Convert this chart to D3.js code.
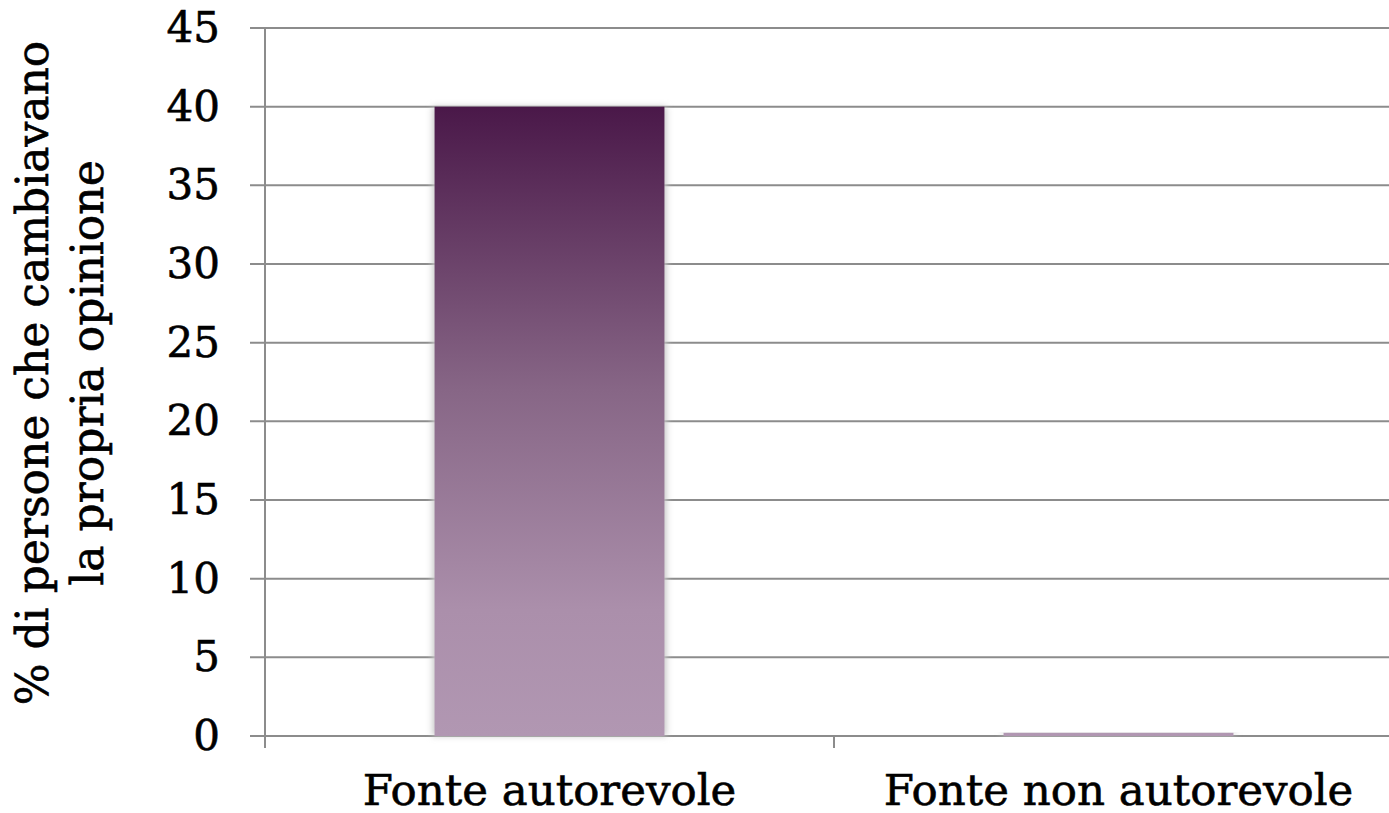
<!DOCTYPE html>
<html><head><meta charset="utf-8">
<script src="https://cdn.jsdelivr.net/npm/d3@7"></script>
<style>html,body{margin:0;padding:0;background:#fff;overflow:hidden}</style>
</head><body>
<svg id="c" width="1389" height="813"></svg>
<script>
const categories = ["Fonte autorevole", "Fonte non autorevole"];
const values = [40, 0.2];
const yTicks = [0, 5, 10, 15, 20, 25, 30, 35, 40, 45];
const yTitle = ["% di persone che cambiavano", "la propria opinione"];

(function () {
const svg = d3.select("#c");
const font = "'DejaVu Serif', serif";
const pl = 265, pr = 1403, pt = 28, pb = 736;

const x = d3.scaleBand().domain(categories).range([pl, pr]).paddingInner(0.596).paddingOuter(0.298);
const y = d3.scaleLinear().domain([0, 45]).range([pb, pt]);

const defs = svg.append("defs");
const g = defs.append("linearGradient").attr("id", "barg").attr("gradientUnits", "userSpaceOnUse")
  .attr("x1", 0).attr("y1", y(d3.max(values))).attr("x2", 0).attr("y2", y(0));
g.append("stop").attr("offset", "0%").attr("stop-color", "#4a1849");
g.append("stop").attr("offset", "45%").attr("stop-color", "#876686");
g.append("stop").attr("offset", "80%").attr("stop-color", "#ab8fab");
g.append("stop").attr("offset", "100%").attr("stop-color", "#b197b2");
const f = defs.append("filter").attr("id", "sh").attr("x", "-10%").attr("y", "-10%").attr("width", "120%").attr("height", "120%");
f.append("feGaussianBlur").attr("stdDeviation", 3);

svg.append("g").selectAll("line").data(yTicks).join("line")
  .attr("x1", pl - 15).attr("x2", pr)
  .attr("y1", d => y(d)).attr("y2", d => y(d))
  .attr("stroke", "#8c8c8c").attr("stroke-width", 2);

svg.append("g").selectAll("rect").data(categories).join("rect")
  .attr("x", d => x(d) - 2).attr("width", x.bandwidth() + 4)
  .attr("y", (d, i) => y(values[i])).attr("height", (d, i) => y(0) - y(values[i]))
  .attr("fill", "#c8c8c8").attr("filter", "url(#sh)");
svg.append("g").selectAll("rect").data(categories).join("rect")
  .attr("x", d => x(d)).attr("width", x.bandwidth())
  .attr("y", (d, i) => y(values[i])).attr("height", (d, i) => y(0) - y(values[i]))
  .attr("fill", "url(#barg)");

const yAxis = d3.axisLeft(y).tickValues(yTicks).tickSize(15).tickPadding(30);
const ya = svg.append("g").attr("transform", `translate(${pl},0)`).call(yAxis);
ya.select(".domain").remove();
ya.selectAll(".tick line").remove();
ya.selectAll("text").attr("font-family", font).attr("font-size", 42).attr("fill", "#000")
  .attr("stroke", "#000").attr("stroke-width", 0.6);
svg.append("line").attr("x1", pl).attr("x2", pl).attr("y1", pt).attr("y2", pb + 12)
  .attr("stroke", "#8c8c8c").attr("stroke-width", 2);

const bounds = [pl, pl + x.step(), pr];
svg.append("g").selectAll("line").data(bounds).join("line")
  .attr("x1", d => d).attr("x2", d => d).attr("y1", pb).attr("y2", pb + 12)
  .attr("stroke", "#8c8c8c").attr("stroke-width", 2);

svg.append("g").selectAll("text").data(categories).join("text")
  .attr("x", d => x(d) + x.bandwidth() / 2).attr("y", 805)
  .attr("text-anchor", "middle").attr("font-family", font).attr("font-size", 43.5).attr("fill", "#000")
  .attr("stroke", "#000").attr("stroke-width", 0.6)
  .text(d => d);

const yt = svg.append("text").attr("transform", "translate(0,373) rotate(-90)")
  .attr("text-anchor", "middle").attr("font-family", font).attr("font-size", 44).attr("fill", "#000")
  .attr("stroke", "#000").attr("stroke-width", 0.6);
yTitle.forEach((t, i) => yt.append("tspan").attr("x", 0).attr("y", 48 + i * 55).text(t));
})();
</script>
</body></html>
